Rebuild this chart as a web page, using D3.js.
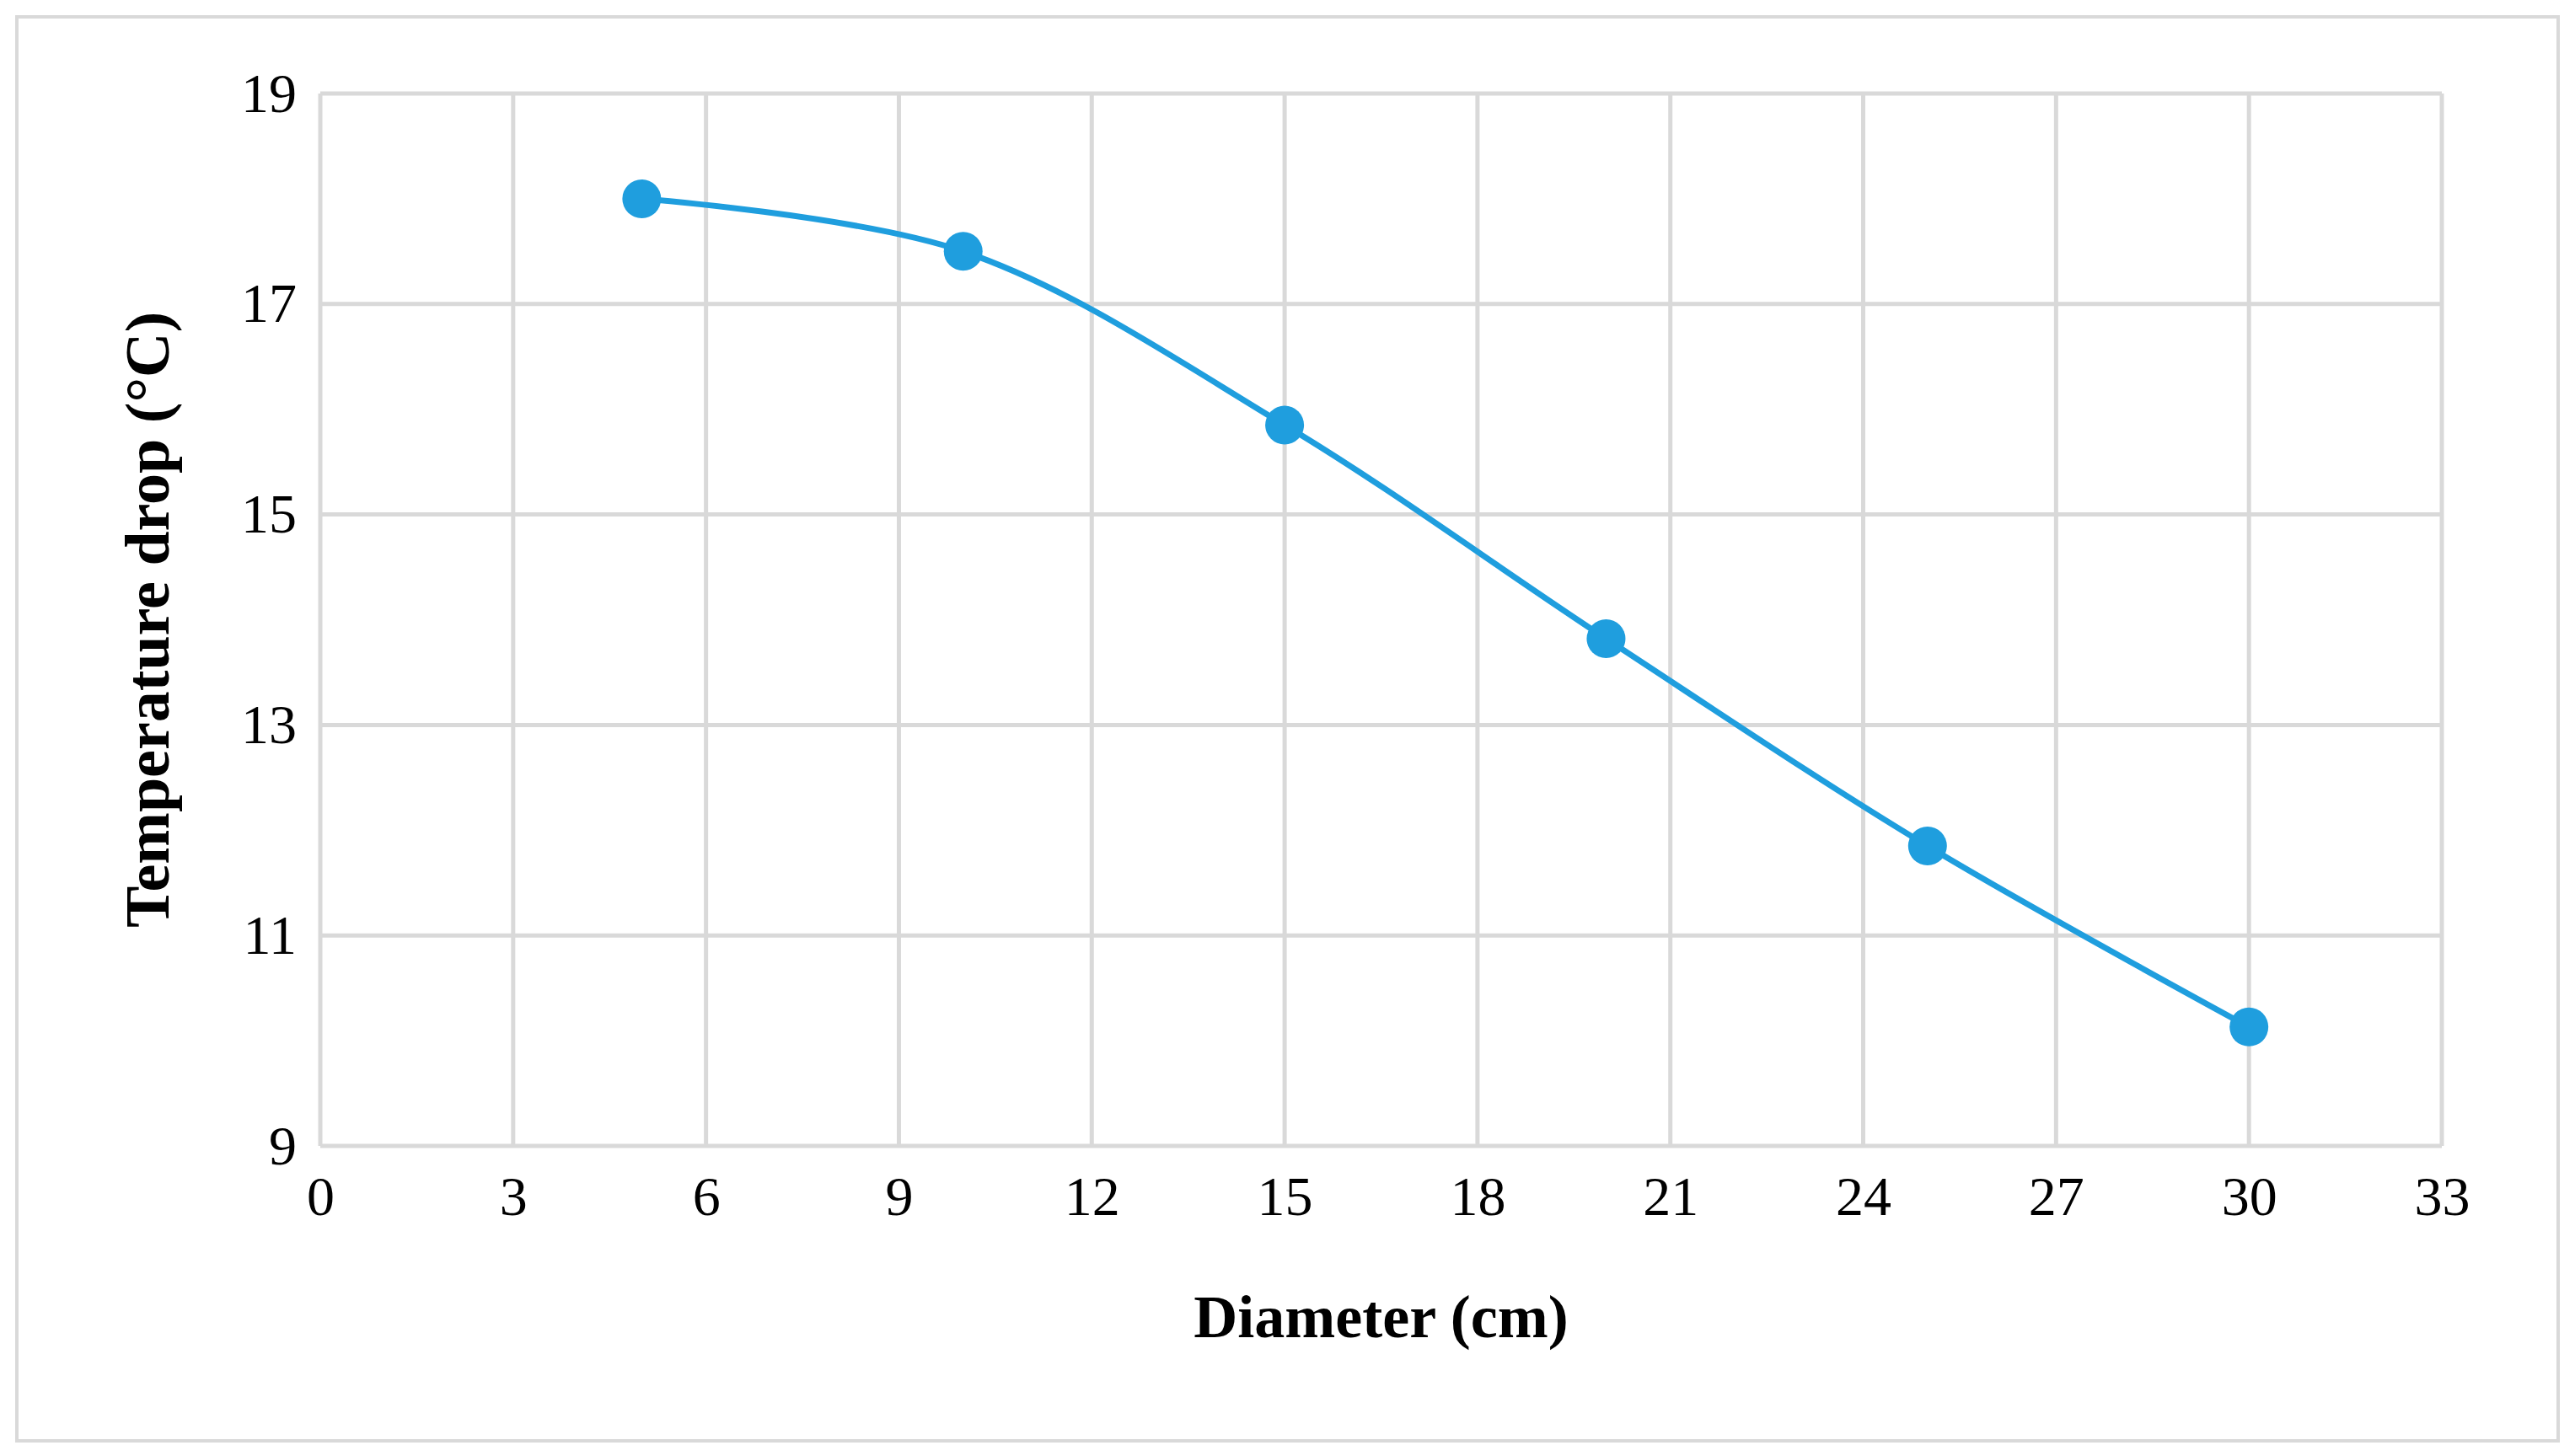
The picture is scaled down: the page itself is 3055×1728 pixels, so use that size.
<!DOCTYPE html>
<html>
<head>
<meta charset="utf-8">
<script src="https://cdn.jsdelivr.net/npm/d3@7"></script>
<style>
  body { margin: 0; background: #fff; }
  text { font-family: "Liberation Serif", "Times New Roman", serif; }
</style>
</head>
<body>
<svg id="chart" width="3055" height="1728"></svg>
<script>
// Data
var diameters = [5, 10, 15, 20, 25, 30];
var tempDrops = [18.0, 17.5, 15.85, 13.82, 11.85, 10.13];
var xTicks = [0, 3, 6, 9, 12, 15, 18, 21, 24, 27, 30, 33];
var yTicks = [9, 11, 13, 15, 17, 19];

var svg = d3.select("#chart");
var margin = { left: 380, right: 3055 - 2897, top: 111, bottom: 1728 - 1360 };
var width = 3055 - margin.left - margin.right;
var height = 1728 - margin.top - margin.bottom;
var blue = "#1f9ede";

// outer frame
svg.append("rect")
  .attr("x", 20).attr("y", 20)
  .attr("width", 3015).attr("height", 1690)
  .attr("fill", "none").attr("stroke", "#d9d9d9").attr("stroke-width", 4);

var g = svg.append("g").attr("transform", `translate(${margin.left},${margin.top})`);

var x = d3.scaleLinear().domain([0, 33]).range([0, width]);
var y = d3.scaleLinear().domain([9, 19]).range([height, 0]);

// gridlines
g.selectAll(".vgrid").data(xTicks).enter().append("line")
  .attr("x1", d => x(d)).attr("x2", d => x(d))
  .attr("y1", 0).attr("y2", height)
  .attr("stroke", "#d9d9d9").attr("stroke-width", 5);
g.selectAll(".hgrid").data(yTicks).enter().append("line")
  .attr("x1", 0).attr("x2", width)
  .attr("y1", d => y(d)).attr("y2", d => y(d))
  .attr("stroke", "#d9d9d9").attr("stroke-width", 5);

// axes
var xAxis = g.append("g").attr("transform", `translate(0,${height})`)
  .call(d3.axisBottom(x).tickValues(xTicks).tickSize(0).tickPadding(26));
var yAxis = g.append("g")
  .call(d3.axisLeft(y).tickValues(yTicks).tickSize(0).tickPadding(28));
[xAxis, yAxis].forEach(a => {
  a.select(".domain").remove();
  a.selectAll("text").style("font-family", "Liberation Serif").style("font-size", "66px").attr("fill", "#000");
});
xAxis.selectAll("text").attr("dy", "0.85em");

// line
var pts = diameters.map((d, i) => [d, tempDrops[i]]);
var line = d3.line()
  .x(d => x(d[0])).y(d => y(d[1]))
  .curve(d3.curveCatmullRom.alpha(0.5));
g.append("path").datum(pts)
  .attr("d", line).attr("fill", "none")
  .attr("stroke", blue).attr("stroke-width", 7);

g.selectAll(".pt").data(pts).enter().append("circle")
  .attr("cx", d => x(d[0])).attr("cy", d => y(d[1]))
  .attr("r", 23).attr("fill", blue);

// axis titles
svg.append("text")
  .attr("x", margin.left + width / 2).attr("y", 1587)
  .attr("text-anchor", "middle")
  .style("font-size", "72px").style("font-weight", "bold")
  .text("Diameter (cm)");
svg.append("text")
  .attr("transform", `translate(200,${margin.top + height / 2}) rotate(-90)`)
  .attr("text-anchor", "middle")
  .style("font-size", "74px").style("font-weight", "bold")
  .text("Temperature drop (°C)");
</script>
</body>
</html>
